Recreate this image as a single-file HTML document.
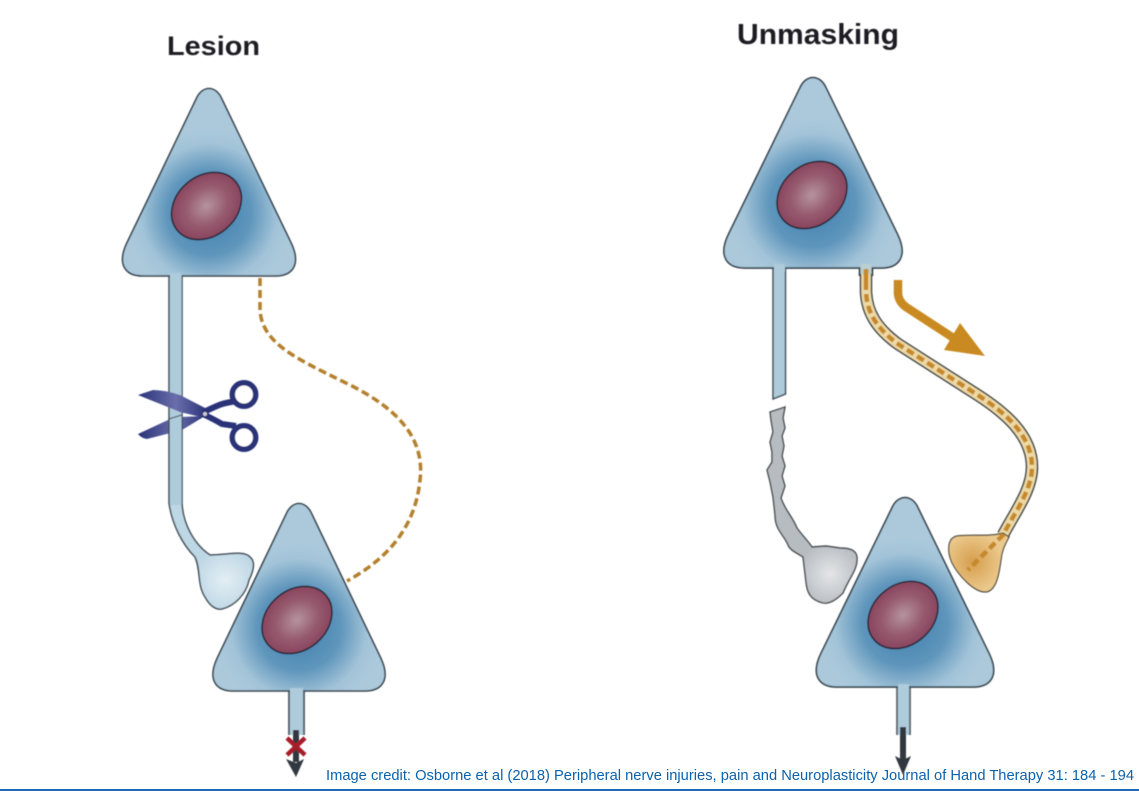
<!DOCTYPE html>
<html>
<head>
<meta charset="utf-8">
<style>
html,body{margin:0;padding:0;background:#fff;width:1139px;height:791px;overflow:hidden}
svg{display:block}
text{font-family:"Liberation Sans",Arial,sans-serif}
</style>
</head>
<body>
<svg width="1139" height="791" viewBox="0 0 1139 791" xmlns="http://www.w3.org/2000/svg">
<defs>
<filter id="soft" x="-5%" y="-5%" width="110%" height="110%"><feGaussianBlur stdDeviation="0.5"/></filter>
<radialGradient id="cell" gradientUnits="userSpaceOnUse" cx="210" cy="213" r="84">
<stop offset="0" stop-color="#3f7fae"/><stop offset=".5" stop-color="#5e95bb"/><stop offset=".82" stop-color="#a2c3d8"/><stop offset="1" stop-color="#abc9db"/>
</radialGradient>
<radialGradient id="nuc" cx=".5" cy=".5" r=".55">
<stop offset="0" stop-color="#b5939f"/><stop offset=".55" stop-color="#965a6e"/><stop offset="1" stop-color="#87415b"/>
</radialGradient>
<radialGradient id="bw" gradientUnits="userSpaceOnUse" cx="225" cy="580" r="32">
<stop offset="0" stop-color="#e3eef4"/><stop offset="1" stop-color="#bed7e5"/>
</radialGradient>
<radialGradient id="bg" gradientUnits="userSpaceOnUse" cx="830" cy="574" r="32">
<stop offset="0" stop-color="#e4e6e8"/><stop offset="1" stop-color="#b7bcc1"/>
</radialGradient>
<radialGradient id="bo" gradientUnits="userSpaceOnUse" cx="973" cy="562" r="30">
<stop offset="0" stop-color="#d69e4e"/><stop offset="1" stop-color="#ebc98d"/>
</radialGradient>
<linearGradient id="blade" gradientUnits="userSpaceOnUse" x1="138" y1="0" x2="207" y2="0">
<stop offset="0" stop-color="#2a3278"/><stop offset=".55" stop-color="#6a6fab"/><stop offset="1" stop-color="#2a3278"/>
</linearGradient>
<path id="tri" d="M197,99 C203,85 217,85 223,99 L293,243 C303,264 295,276 277,276 L143,276 C125,276 117,264 127,243 Z" fill="url(#cell)" stroke="#36424c" stroke-width="1.6"/>
<ellipse id="nucleus" cx="0" cy="0" rx="38" ry="30" transform="rotate(-40)" fill="url(#nuc)" stroke="#2a2638" stroke-width="1.6"/>
</defs>

<g filter="url(#soft)">
<text x="167" y="55" font-size="27" font-weight="700" fill="#1c1c20" textLength="93" lengthAdjust="spacingAndGlyphs">Lesion</text>
<text x="737" y="44" font-size="29" font-weight="700" fill="#1c1c20" textLength="162" lengthAdjust="spacingAndGlyphs">Unmasking</text>

<!-- Scissors lower blade behind axon -->
<path d="M138,434 L168,420 L180,417 L205,416 L182,430 L147,439 Q141,438 138,434 Z" fill="url(#blade)"/>

<!-- Lesion axon + bouton -->
<path d="M169,270 L169,503 C172,525 183,545 195,557 C201,570 197,585 205,597 C210,606 216,610 222,609 C234,606 246,595 249,580 C253,572 256,562 250,557 C244,550 228,555 210,555 C195,545 183,525 182,503 L182,270 Z" fill="url(#bw)" stroke="#3f4c56" stroke-width="1.5"/>
<rect x="170" y="270" width="11.5" height="235" fill="#aecbdc"/>

<!-- Upper blade -->
<path d="M138,395 L153,390 Q165,390 180,395 L207,409 L205,418 L180,412 Z" fill="url(#blade)"/>
<path d="M169,419 L181.5,415" stroke="#3f4c56" stroke-width="1" fill="none"/>
<!-- Handles -->
<path d="M204,412 Q220,404 226,403 L236,401" stroke="#2a3278" stroke-width="6" fill="none"/>
<path d="M205,415 Q215,420 222,424 L236,426" stroke="#2a3278" stroke-width="6" fill="none"/>
<circle cx="244" cy="394.500" r="11.700" fill="#fff" stroke="#2a3278" stroke-width="5.500"/>
<circle cx="244" cy="437.500" r="11.700" fill="#fff" stroke="#2a3278" stroke-width="5.500"/>
<circle cx="205" cy="414" r="2.6" fill="#c9cbd6" stroke="#1f2660" stroke-width="1"/>

<!-- Lesion dashed -->
<path d="M260,278 L260,310 C262,345 300,360 350,385 C400,410 425,440 420,480 C415,530 385,560 347,581" fill="none" stroke="#b4802f" stroke-width="3.5" stroke-dasharray="8 4"/>

<!-- Top-left neuron -->
<use href="#tri" transform="translate(209,88) scale(.99,1) translate(-210,-88)"/>
<use href="#nucleus" transform="translate(206.500,206)"/>
<rect x="170" y="273" width="11.500" height="6" fill="#aecbdc"/>

<!-- Lower-left stem and neuron -->
<rect x="289" y="685" width="15" height="50" fill="#aecbdc"/>
<path d="M289,688 V735 M304,688 V735" stroke="#5a656d" stroke-width="2"/>
<use href="#tri" transform="translate(299,503) scale(.985,1) translate(-210,-88)"/>
<use href="#nucleus" transform="translate(297,620)"/>
<rect x="290" y="688" width="13" height="7" fill="#aecbdc"/>
<path d="M296,730 V762" stroke="#33393f" stroke-width="6"/>
<path d="M286,759 L296,777 L304,759 L296,763 Z" fill="#33393f"/>
<path d="M287,738 L305,755 M305,738 L287,755" stroke="#a71e2a" stroke-width="4.500"/>

<!-- Gold tube -->
<path d="M866,268 V292 C867,312 876,328 898,344 L973,392 C1005,412 1032,435 1032,467 C1032,490 1015,512 1003,535" fill="none" stroke="#3d4347" stroke-width="12.500"/>
<path d="M866,268 V292 C867,312 876,328 898,344 L973,392 C1005,412 1032,435 1032,467 C1032,490 1015,512 1003,535" fill="none" stroke="#ecd9a6" stroke-width="9.500"/>

<!-- Gold bouton -->
<path d="M1003,533 C990,537 970,534 957,536 C947,538 947,552 952,563 C960,578 975,592 985,592 C996,592 999,575 1001,560 C1002,550 1005,545 1009,537 Z" fill="url(#bo)" stroke="#4a4538" stroke-width="1.2"/>
<path d="M866,270 V292 C867,312 876,328 898,344 L973,392 C1005,412 1032,435 1032,467 C1032,490 1015,512 1003,535 L968,570" fill="none" stroke="#c6892a" stroke-width="4.500" stroke-dasharray="8 4"/>

<!-- Left stem (cut) -->
<path d="M773,262 V399 L785.500,394 V262" fill="#aecbdc" stroke="#36424c" stroke-width="1.400"/>

<!-- Gray degenerate -->
<path d="M770,412 L785,407 L783,418 L785,428 L782,436 L784,446 L782,456 L785,466 L782,476 L785,486 L781,498 C785,510 792,516 797,528 C802,535 808,541 812,547 L826,546 L840,548 C850,548 858,550 857,560 C857,570 848,580 843,593 C835,601 828,604 823,603 C810,600 807,592 806,582 L803,557 C795,552 790,550 788,545 C784,535 775,530 775,515 L773,497 L770,482 L769,478 L767,470 L772,462 L772,452 L770,442 L773,432 L771,420 Z" fill="url(#bg)" stroke="#43484d" stroke-width="1.400"/>

<!-- Upper-right neuron -->
<use href="#tri" transform="translate(813,77) scale(1.02,1.016) translate(-210,-88)"/>
<use href="#nucleus" transform="translate(812,195)"/>
<rect x="774" y="264" width="11" height="8" fill="#aecbdc"/>
<rect x="860.500" y="264" width="11" height="10" fill="#b9cfd0"/>
<path d="M859.500,268 V276 M872.500,268 V276" stroke="#3d4347" stroke-width="1.600"/>
<path d="M866,269 V282" stroke="#c6892a" stroke-width="4.500" stroke-dasharray="6 3"/>

<!-- Gold arrow -->
<path d="M898,280 V294 Q899,302 906,307 L955,339" fill="none" stroke="#c98a22" stroke-width="8.500"/>
<path d="M960,323 L985,356 L944,350 Z" fill="#c98a22"/>

<!-- Lower-right stem and neuron -->
<rect x="897" y="682" width="13" height="53" fill="#aecbdc"/>
<path d="M897,684 V735 M910,684 V735" stroke="#5a656d" stroke-width="1.800"/>
<use href="#tri" transform="translate(905,497) scale(1.015,1.011) translate(-210,-88)"/>
<use href="#nucleus" transform="translate(903,615)"/>
<rect x="898" y="684" width="11" height="7" fill="#aecbdc"/>
<path d="M903,727 V760" stroke="#33393f" stroke-width="6"/>
<path d="M895,756 L903,775 L911,756 L903,760 Z" fill="#33393f"/>
</g>

<text x="326" y="780" font-size="14.6" fill="#0b62ad" textLength="808" lengthAdjust="spacingAndGlyphs">Image credit: Osborne et al (2018) Peripheral nerve injuries, pain and Neuroplasticity Journal of Hand Therapy 31: 184 - 194</text>
<rect x="0" y="789" width="1139" height="2" fill="#1a6db3"/>
</svg>
</body>
</html>
